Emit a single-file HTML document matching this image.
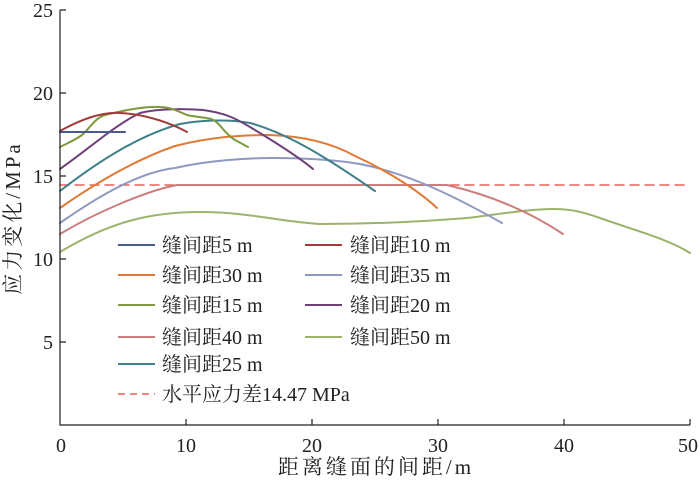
<!DOCTYPE html>
<html><head><meta charset="utf-8"><style>
html,body{margin:0;padding:0;background:#fff;}
svg text{font-family:"Liberation Serif","Noto Serif CJK SC",serif;fill:#222;}
</style></head><body>
<svg width="700" height="481" viewBox="0 0 700 481" xmlns="http://www.w3.org/2000/svg">
<g fill="none" stroke-width="2" stroke-linecap="round" stroke-linejoin="round">
<path d="M60,185 L690,185" stroke="#e8605a" stroke-width="1.5" stroke-dasharray="9,6"/>
<path d="M60,252 C110,222 150,212 200,212 C250,212 280,222 320,224 C380,224 430,221 467,218 C500,214 530,209 553,209 C570,209 580,211 600,218 C640,232 670,240 690,253" stroke="#9db36c"/>
<path d="M60,234 C100,210 150,190 177,185 L447,185 C490,195 530,212 563,234" stroke="#cc7d7d"/>
<path d="M60,223 C100,195 140,172 175,168 C210,160 250,158 273,158 C300,158 330,159 360,164 C400,172 440,188 502,223" stroke="#8e99c2"/>
<path d="M60,208 C100,180 140,158 175,146 C210,137 240,135 270,135 C300,136 330,142 355,156 C390,172 420,192 437,208" stroke="#e07a36"/>
<path d="M60,191 C100,160 140,135 180,124 C200,120 230,119 250,123 C290,134 330,160 375,191" stroke="#3e7f8c"/>
<path d="M60,169 C90,148 115,125 140,113 C160,108 190,109 203,110 C225,113 235,118 250,127 C280,145 300,158 313,169" stroke="#6e3f7a"/>
<path d="M60,147 C70,142 75,140 82,135 C90,128 95,118 105,115 C125,110 145,106 160,107 C170,107 175,110 187,115 C200,118 210,117 215,121 C222,126 225,134 235,140 L248,147" stroke="#7f9a3c"/>
<path d="M60,131 C80,120 100,112 120,113 C140,114 165,120 187,132" stroke="#a03c3c"/>
<path d="M60,132 L125,132" stroke="#4a5a8c"/>
</g>
<g stroke="#222" stroke-width="1.2" fill="none">
<path d="M60,10 L60,425 L690,425"/>
<path d="M60,10 H66 M60,93 H66 M60,176 H66 M60,259 H66 M60,342 H66"/>
<path d="M186,425 V419 M312,425 V419 M438,425 V419 M564,425 V419 M690,425 V419"/>
</g>
<g font-size="20" text-anchor="end">
<text x="53" y="17">25</text><text x="53" y="100">20</text><text x="53" y="183">15</text><text x="53" y="266">10</text><text x="53" y="349">5</text>
</g>
<g font-size="20" text-anchor="middle">
<text x="61" y="452">0</text><text x="186" y="452">10</text><text x="312" y="452">20</text><text x="438" y="452">30</text><text x="564" y="452">40</text><text x="688" y="452">50</text>
</g>
<text x="376" y="474" font-size="21" text-anchor="middle" letter-spacing="3">距离缝面的间距/m</text>
<text transform="translate(20,218) rotate(-90)" font-size="21" text-anchor="middle" letter-spacing="3">应力变化/MPa</text>
<g font-size="20" stroke-width="2">
<line x1="118" y1="245" x2="155" y2="245" stroke="#4a5a8c"/><text x="162" y="252">缝间距5 m</text>
<line x1="305" y1="245" x2="342" y2="245" stroke="#a03c3c"/><text x="350" y="252">缝间距10 m</text>
<line x1="118" y1="275" x2="155" y2="275" stroke="#e07a36"/><text x="162" y="282">缝间距30 m</text>
<line x1="305" y1="275" x2="342" y2="275" stroke="#8e99c2"/><text x="350" y="282">缝间距35 m</text>
<line x1="118" y1="305" x2="155" y2="305" stroke="#7f9a3c"/><text x="162" y="312">缝间距15 m</text>
<line x1="305" y1="305" x2="342" y2="305" stroke="#6e3f7a"/><text x="350" y="312">缝间距20 m</text>
<line x1="118" y1="337" x2="155" y2="337" stroke="#cc7d7d"/><text x="162" y="344">缝间距40 m</text>
<line x1="305" y1="337" x2="342" y2="337" stroke="#9db36c"/><text x="350" y="344">缝间距50 m</text>
<line x1="118" y1="364" x2="155" y2="364" stroke="#3e7f8c"/><text x="162" y="371">缝间距25 m</text>
<line x1="118" y1="394" x2="155" y2="394" stroke="#e8605a" stroke-width="1.5" stroke-dasharray="7,5"/><text x="162" y="401">水平应力差14.47 MPa</text>
</g>
</svg>
</body></html>
